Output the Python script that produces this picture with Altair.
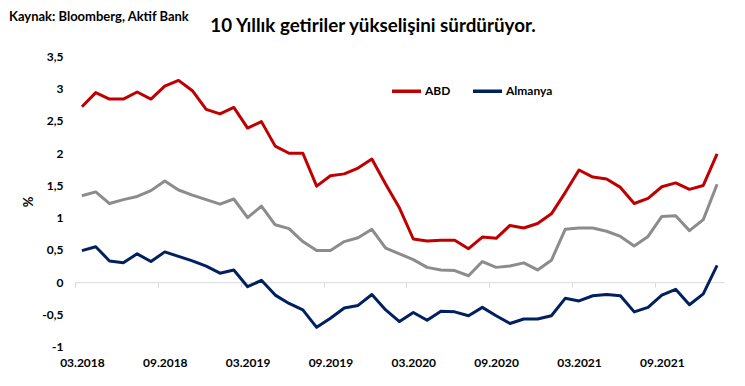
import altair as alt
import pandas as pd

# monthly observations 03.2018 .. 01.2022 (category index 0..46)
months = pd.date_range("2018-03-01", "2022-01-01", freq="MS").strftime("%m.%Y").tolist()
tick_labels = ["03.2018", "09.2018", "03.2019", "09.2019", "03.2020", "09.2020", "03.2021", "09.2021"]
y_ticks = [-1, -0.5, 0, 0.5, 1, 1.5, 2, 2.5, 3, 3.5]

abd = [2.72, 2.94, 2.84, 2.84, 2.95, 2.84, 3.04, 3.13, 2.97, 2.68, 2.61, 2.71,
       2.39, 2.49, 2.11, 2.00, 2.00, 1.49, 1.65, 1.68, 1.77, 1.91, 1.52, 1.15,
       0.67, 0.64, 0.65, 0.65, 0.52, 0.70, 0.68, 0.88, 0.84, 0.91, 1.06, 1.39,
       1.74, 1.63, 1.60, 1.47, 1.22, 1.30, 1.48, 1.54, 1.44, 1.50, 1.99]
gri = [1.34, 1.40, 1.22, 1.28, 1.33, 1.42, 1.57, 1.43, 1.35, 1.28, 1.21, 1.29,
       1.00, 1.18, 0.89, 0.83, 0.63, 0.49, 0.49, 0.63, 0.69, 0.82, 0.53, 0.44,
       0.35, 0.23, 0.19, 0.18, 0.10, 0.32, 0.23, 0.25, 0.30, 0.19, 0.34, 0.82,
       0.84, 0.84, 0.79, 0.71, 0.56, 0.71, 1.02, 1.03, 0.80, 0.97, 1.52]
almanya = [0.49, 0.55, 0.33, 0.30, 0.44, 0.32, 0.47, 0.40, 0.33, 0.25, 0.14, 0.19,
           -0.07, 0.03, -0.20, -0.33, -0.43, -0.70, -0.56, -0.40, -0.36, -0.19, -0.43, -0.61,
           -0.47, -0.59, -0.45, -0.46, -0.52, -0.39, -0.52, -0.64, -0.57, -0.57, -0.52, -0.25,
           -0.29, -0.21, -0.19, -0.21, -0.46, -0.39, -0.20, -0.11, -0.35, -0.18, 0.26]

rows = []
for i, m in enumerate(months):
    rows.append({"i": i, "ay": m, "seri": "ABD", "v": abd[i]})
    rows.append({"i": i, "ay": m, "seri": "Almanya", "v": almanya[i]})
main = pd.DataFrame(rows)
gray_df = pd.DataFrame({"i": list(range(len(months))), "ay": months, "v": gri})

FONT = "Lato"
tick_vals = [k * 6 - 0.5 for k in range(len(tick_labels))]
label_arr = "[" + ",".join(f"'{t}'" for t in tick_labels) + "]"

x_scale = alt.Scale(domain=[-0.5, 46.5], nice=False, zero=False)
y_scale = alt.Scale(domain=[-1, 3.5], nice=False)

x_axis = alt.Axis(
    values=tick_vals, title=None, grid=False, orient="bottom", offset=-64.5,
    domainColor="#D9D9D9", domainWidth=1, tickColor="#D9D9D9", tickSize=5,
    labelExpr=f"{label_arr}[round((datum.value + 0.5) / 6)]",
    labelOffset=6.9, labelPadding=70, labelFont=FONT, labelFontSize=12,
    labelFontWeight="bold", labelColor="#000000", labelFlush=False, labelOverlap=False,
)
y_axis = alt.Axis(
    values=y_ticks, title="%", grid=False,
    domain=False, ticks=False, labelPadding=12, labelOverlap=False, labelFlush=False,
    labelExpr="replace(replace(format(datum.value, '.1~f'), '.', ','), '−', '-')",
    labelFont=FONT, labelFontSize=12, labelFontWeight="bold", labelColor="#000000",
    titleFont=FONT, titleFontSize=13, titleFontWeight="bold", titleColor="#000000",
    titleX=-40, titleY=145,
)

gray_line = alt.Chart(gray_df).mark_line(color="#8C8C8C", strokeWidth=3, strokeJoin="round").encode(
    x=alt.X("i:Q", scale=x_scale, axis=x_axis),
    y=alt.Y("v:Q", scale=y_scale, axis=y_axis),
)

lines = alt.Chart(main).mark_line(strokeWidth=3, strokeJoin="round").encode(
    x=alt.X("i:Q", scale=x_scale, axis=x_axis),
    y=alt.Y("v:Q", scale=y_scale, axis=y_axis),
    color=alt.Color(
        "seri:N",
        scale=alt.Scale(domain=["ABD", "Almanya"], range=["#C00000", "#002060"]),
        legend=alt.Legend(
            title=None, orient="none", direction="horizontal", legendX=315, legendY=18,
            symbolType="stroke", symbolSize=841, symbolStrokeWidth=3.5,
            labelFont=FONT, labelFontSize=12, labelFontWeight="bold", labelColor="#000000",
            labelOffset=2, columnPadding=15, padding=0,
        ),
    ),
)

title_txt = alt.Chart(pd.DataFrame({"t": ["10 Yıllık getiriler yükselişini sürdürüyor."]})).mark_text(
    font=FONT, fontSize=18.8, fontWeight="bold", color="#000000", align="center", baseline="alphabetic"
).encode(x=alt.value(298), y=alt.value(-24.8), text="t:N")

source_txt = alt.Chart(pd.DataFrame({"t": ["Kaynak: Bloomberg, Aktif Bank"]})).mark_text(
    font=FONT, fontSize=13, fontWeight="bold", color="#000000", align="left", baseline="alphabetic"
).encode(x=alt.value(-66), y=alt.value(-35.8), text="t:N")

chart = alt.layer(gray_line, lines, title_txt, source_txt).properties(
    width=649, height=290.2,
    padding={"left": 67, "top": 48.5, "right": 13, "bottom": 31},
    autosize=alt.AutoSizeParams(type="none"),
    background="#FFFFFF",
).configure_view(stroke=None)

chart.save("out.html", embed_options={"renderer": "svg", "actions": False})
